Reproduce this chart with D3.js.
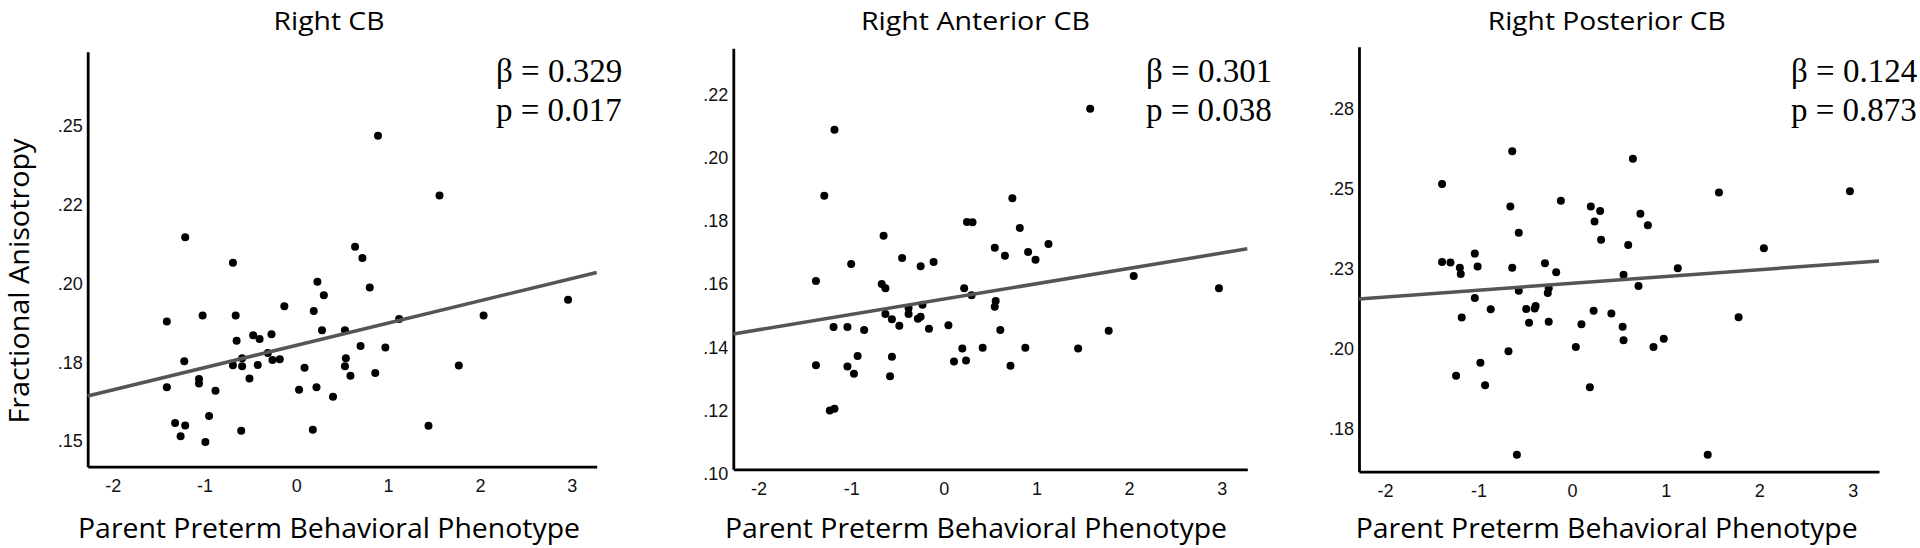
<!DOCTYPE html>
<html><head><meta charset="utf-8">
<script src="https://cdn.jsdelivr.net/npm/d3@7"></script>
<style>html,body{margin:0;padding:0;background:#fff;} svg{display:block;}</style>
</head><body><svg id="chart" width="1920" height="548"></svg>
<script>
// ---------- DATA ----------
const panelTitles = ["Right CB", "Right Anterior CB", "Right Posterior CB"];
const betaValues = ["0.329", "0.301", "0.124"];
const pValues = ["0.017", "0.038", "0.873"];
const xAxisTitle = "Parent Preterm Behavioral Phenotype";
const yAxisTitle = "Fractional Anisotropy";

const xTickValues = [-2, -1, 0, 1, 2, 3];
const xTickLabels = ["-2", "-1", "0", "1", "2", "3"];

const yTickValuesCB = [0.150, 0.175, 0.200, 0.225, 0.250];
const yTickLabelsCB = [".15", ".18", ".20", ".22", ".25"];
const yTickValuesAnt = [0.10, 0.12, 0.14, 0.16, 0.18, 0.20, 0.22];
const yTickLabelsAnt = [".10", ".12", ".14", ".16", ".18", ".20", ".22"];
const yTickValuesPost = [0.175, 0.200, 0.225, 0.250, 0.275];
const yTickLabelsPost = [".18", ".20", ".23", ".25", ".28"];

// Right CB
const cbX = [-1.41,-1.41,-1.32,-1.26,-1.22,-1.21,-1.21,-1.06,-1.06,-1.02,-0.99,-0.95,-0.88,-0.69,-0.69,-0.66,-0.65,-0.60,-0.59,-0.59,-0.51,-0.47,-0.42,-0.40,-0.31,-0.27,-0.26,-0.18,-0.13,0.03,0.09,0.18,0.19,0.22,0.23,0.28,0.30,0.40,0.53,0.53,0.54,0.59,0.64,0.70,0.72,0.80,0.86,0.89,0.97,1.12,1.44,1.56,1.77,2.04,2.96];
const cbFA = [0.1880,0.1671,0.1558,0.1516,0.1754,0.2147,0.1550,0.1697,0.1683,0.1899,0.1497,0.1580,0.1660,0.2066,0.1741,0.1899,0.1819,0.1533,0.1763,0.1738,0.1699,0.1836,0.1742,0.1824,0.1780,0.1839,0.1758,0.1760,0.1928,0.1663,0.1733,0.1536,0.1913,0.1671,0.2006,0.1852,0.1963,0.1641,0.1852,0.1738,0.1763,0.1708,0.2117,0.1802,0.2081,0.1988,0.1716,0.2469,0.1797,0.1888,0.1549,0.2280,0.1740,0.1899,0.1949];

// Right Anterior CB
const antX = [-1.38,-1.38,-1.29,-1.23,-1.18,-1.18,-1.19,-1.04,-1.04,-1.00,-0.97,-0.93,-0.86,-0.67,-0.65,-0.63,-0.63,-0.58,-0.56,-0.56,-0.48,-0.45,-0.38,-0.38,-0.28,-0.25,-0.25,-0.23,-0.16,-0.11,0.05,0.11,0.20,0.22,0.25,0.24,0.30,0.31,0.42,0.55,0.56,0.55,0.61,0.66,0.72,0.74,0.82,0.88,0.91,0.99,1.13,1.45,1.58,1.78,2.05,2.97];
const antFA = [0.1610,0.1344,0.1880,0.1201,0.1206,0.2088,0.1465,0.1465,0.1340,0.1664,0.1317,0.1373,0.1455,0.1601,0.1753,0.1587,0.1506,0.1309,0.1489,0.1371,0.1469,0.1683,0.1506,0.1525,0.1491,0.1657,0.1497,0.1535,0.1459,0.1670,0.1470,0.1356,0.1397,0.1587,0.1797,0.1359,0.1565,0.1796,0.1399,0.1715,0.1547,0.1529,0.1455,0.1690,0.1342,0.1872,0.1778,0.1399,0.1702,0.1677,0.1727,0.1397,0.2155,0.1453,0.1626,0.1587];

// Right Posterior CB
const postX = [-1.39,-1.39,-1.30,-1.24,-1.20,-1.19,-1.18,-1.04,-1.04,-1.01,-0.98,-0.93,-0.87,-0.68,-0.66,-0.64,-0.64,-0.59,-0.57,-0.57,-0.49,-0.46,-0.40,-0.39,-0.29,-0.26,-0.25,-0.25,-0.17,-0.12,0.04,0.10,0.19,0.20,0.23,0.24,0.30,0.31,0.42,0.54,0.55,0.55,0.60,0.65,0.71,0.73,0.81,0.87,0.98,1.13,1.45,1.57,1.78,2.05,2.97];
const postFA = [0.2515,0.2271,0.2269,0.1915,0.2253,0.2233,0.2097,0.2297,0.2158,0.2257,0.1956,0.1885,0.2123,0.1992,0.2444,0.2617,0.2253,0.1668,0.2362,0.2181,0.2124,0.2081,0.2125,0.2133,0.2267,0.2174,0.2084,0.2189,0.2239,0.2462,0.2005,0.2076,0.1879,0.2444,0.2118,0.2397,0.2430,0.2340,0.2110,0.2068,0.2026,0.2231,0.2324,0.2594,0.2196,0.2422,0.2386,0.2005,0.2031,0.2251,0.1668,0.2488,0.2098,0.2314,0.2492];

// Fit lines (intercept, slope)
const fitIntercepts = [0.1804, 0.1553, 0.2204];
const fitSlopes = [0.00707, 0.00485, 0.00214];

// ---------- LAYOUT ----------
const layout = [
  {left: 87.7, right: 596.7, top: 51.7, bottom: 466.7, xDomain: [-2.272, 3.272], yDomain: [0.1419, 0.2736],
   titleX: 329, titleW: 111, statX: 496, labelX: 329},
  {left: 733.3, right: 1247.3, top: 48.2, bottom: 469.3, xDomain: [-2.272, 3.276], yDomain: [0.1015, 0.2346],
   titleX: 975.4, titleW: 229, statX: 1146, labelX: 976},
  {left: 1359, right: 1879, top: 46.7, bottom: 471.7, xDomain: [-2.278, 3.281], yDomain: [0.1615, 0.2944],
   titleX: 1606.8, titleW: 238, statX: 1791, labelX: 1606.7}
];

const xs = [cbX, antX, postX];
const ys = [cbFA, antFA, postFA];
const yTickVals = [yTickValuesCB, yTickValuesAnt, yTickValuesPost];
const yTickLabs = [yTickLabelsCB, yTickLabelsAnt, yTickLabelsPost];

const svg = d3.select("#chart");
const sans = "'Open Sans', 'DejaVu Sans', sans-serif";
const tickFont = "'Liberation Sans', Arial, sans-serif";
const serif = "'Liberation Serif', 'Times New Roman', serif";

layout.forEach((L, i) => {
  const g = svg.append("g");
  const x = d3.scaleLinear().domain(L.xDomain).range([L.left, L.right]);
  const y = d3.scaleLinear().domain(L.yDomain).range([L.bottom, L.top]);

  // title
  g.append("text").attr("x", L.titleX).attr("y", 30).attr("text-anchor", "middle")
    .attr("font-family", sans).attr("font-size", 26).attr("fill", "#000")
    .attr("textLength", L.titleW).attr("lengthAdjust", "spacingAndGlyphs")
    .text(panelTitles[i]);

  // x axis
  const xAxis = d3.axisBottom(x).tickValues(xTickValues)
    .tickFormat((d, k) => xTickLabels[k]).tickSize(0).tickSizeOuter(0).tickPadding(13);
  const gx = g.append("g").attr("transform", `translate(0,${L.bottom})`).call(xAxis);
  gx.select(".domain").attr("stroke", "#000").attr("stroke-width", 2.8);
  gx.selectAll("text").attr("font-family", tickFont).attr("font-size", 18).attr("fill", "#111");

  // y axis
  const yAxis = d3.axisLeft(y).tickValues(yTickVals[i])
    .tickFormat((d, k) => yTickLabs[i][k]).tickSize(0).tickSizeOuter(0).tickPadding(5);
  const gy = g.append("g").attr("transform", `translate(${L.left},0)`).call(yAxis);
  gy.select(".domain").attr("stroke", "#000").attr("stroke-width", 2.8);
  gy.selectAll("text").attr("font-family", tickFont).attr("font-size", 18).attr("fill", "#111");

  // points
  g.append("g").selectAll("circle").data(xs[i].map((v, k) => [v, ys[i][k]])).join("circle")
    .attr("cx", d => x(d[0])).attr("cy", d => y(d[1])).attr("r", 4).attr("fill", "#000");

  // fit line
  const x0 = L.xDomain[0], x1 = L.xDomain[1];
  g.append("line")
    .attr("x1", x(x0)).attr("y1", y(fitIntercepts[i] + fitSlopes[i] * x0))
    .attr("x2", x(x1)).attr("y2", y(fitIntercepts[i] + fitSlopes[i] * x1))
    .attr("stroke", "#555").attr("stroke-width", 3.5);

  // stats
  g.append("text").attr("x", L.statX).attr("y", 81.5)
    .attr("font-family", serif).attr("font-size", 33).attr("fill", "#000")
    .text("β = " + betaValues[i]);
  g.append("text").attr("x", L.statX).attr("y", 121)
    .attr("font-family", serif).attr("font-size", 33).attr("fill", "#000")
    .text("p = " + pValues[i]);

  // x axis title
  g.append("text").attr("x", L.labelX).attr("y", 538).attr("text-anchor", "middle")
    .attr("font-family", sans).attr("font-size", 28).attr("fill", "#000")
    .attr("textLength", 502).attr("lengthAdjust", "spacingAndGlyphs")
    .text(xAxisTitle);
});

// y axis title
svg.append("text").attr("transform", "translate(29,281) rotate(-90)")
  .attr("text-anchor", "middle").attr("font-family", sans).attr("font-size", 27).attr("fill", "#000")
  .attr("textLength", 285).attr("lengthAdjust", "spacingAndGlyphs")
  .text(yAxisTitle);
</script>
</body></html>
